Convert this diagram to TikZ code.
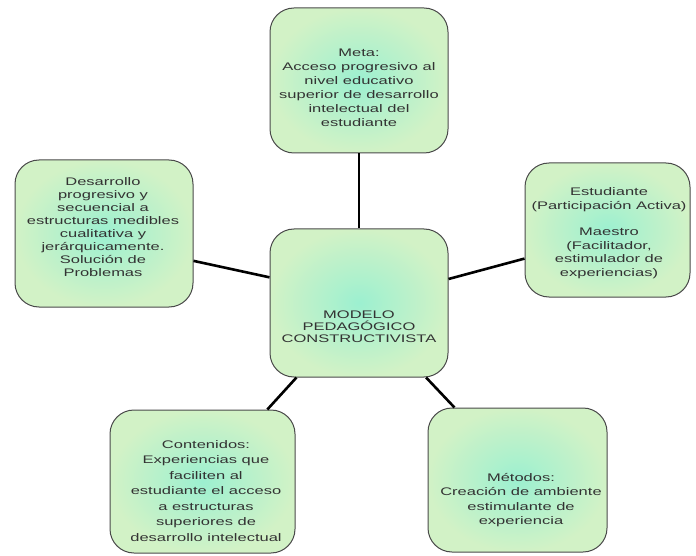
\documentclass[tikz,border=0pt]{standalone}
\usepackage{fontspec}
\setmainfont{Liberation Sans}[FakeStretch=1.5]
\definecolor{mintin}{HTML}{9CF0D0}
\definecolor{mintout}{HTML}{D2F2C6}
\definecolor{boxgray}{HTML}{4A4A4A}
\definecolor{txtgray}{HTML}{333333}
\tikzset{
  box/.style={draw=boxgray, line width=1pt, rounded corners=24pt,
    inner color=mintin, outer color=mintout, inner sep=0pt},
  txt/.style={align=center, text=txtgray, inner sep=0pt,
    font=\fontsize{11}{14}\selectfont},
  link/.style={draw=black, line width=2.6pt}
}
\begin{document}
\begin{tikzpicture}[x=1pt,y=-1pt]
\useasboundingbox[fill=white] (0,0) rectangle (696,556);
% boxes
\node[box, minimum width=178pt, minimum height=145pt] (T) at (359,80.5) {};
\node[box, minimum width=178pt, minimum height=147pt] (L) at (104,233.5) {};
\node[box, minimum width=165pt, minimum height=134pt] (R) at (607.5,230) {};
\node[box, minimum width=178pt, minimum height=148pt] (C) at (359,303) {};
\node[box, minimum width=185pt, minimum height=143pt] (BL) at (202.5,481.5) {};
\node[box, minimum width=179pt, minimum height=144pt] (BR) at (517.5,480) {};
% connectors
\draw[link] (T.south) -- (C.north);
\draw[link] (L.-17.8) -- (C.164.9);
\draw[link] (C.15.7) -- (R.-161.3);
\draw[link] (C.-130) -- (BL.48.8);
\draw[link] (C.-48.7) -- (BR.131);
% texts
\node[txt] (Tt) at (359,87.5) {Meta:\\Acceso progresivo al\\nivel educativo\\superior de desarrollo\\intelectual del\\estudiante};
\node[txt, font=\fontsize{11}{12.9}\selectfont] (Lt) at (103,227) {Desarrollo\\progresivo y\\secuencial a\\estructuras medibles\\cualitativa y\\jerárquicamente.\\Solución de\\Problemas};
\node[txt, font=\fontsize{11}{13.4}\selectfont] (Rt) at (609,233) {Estudiante\\(Participación Activa)\\[13.4pt]Maestro\\(Facilitador,\\estimulador de\\experiencias)};
\node[txt, font=\fontsize{11}{12}\selectfont] (Ct) at (359,327) {MODELO\\PEDAGÓGICO\\CONSTRUCTIVISTA};
\node[txt, font=\fontsize{11}{15.5}\selectfont] (BLt) at (206,491) {Contenidos:\\Experiencias que\\faciliten al\\estudiante el acceso\\a estructuras\\superiores de\\desarrollo intelectual};
\node[txt, font=\fontsize{11}{14.5}\selectfont] (BRt) at (521,500) {Métodos:\\Creación de ambiente\\estimulante de\\experiencia};
\end{tikzpicture}
\end{document}
